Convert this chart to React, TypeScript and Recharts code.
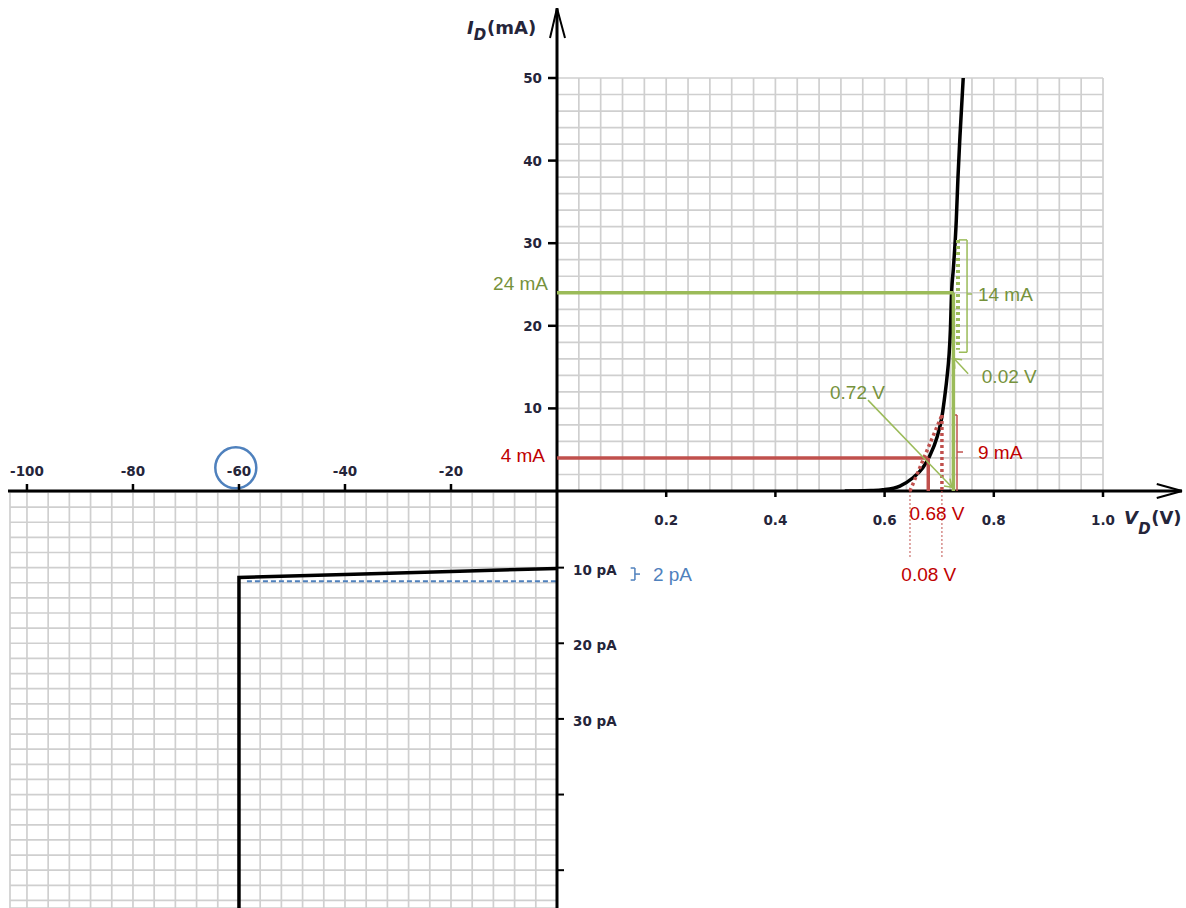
import React from 'react';
import { LineChart, Line, XAxis, YAxis, CartesianGrid, ReferenceLine, ReferenceDot } from 'recharts';

const W = 1186;
const H = 908;

// forward-bias characteristic: V (volts) vs I (mA)
const fwdV = [0.527, 0.55, 0.575, 0.597, 0.628, 0.652, 0.670, 0.683, 0.696, 0.705, 0.711, 0.7137, 0.7205, 0.7229, 0.7258, 0.7313, 0.7344, 0.738, 0.744];
const fwdI = [0, 0, 0.05, 0.15, 0.6, 1.6, 2.8, 4.3, 6.5, 9.0, 11.9, 13.4, 19.5, 24.3, 26.8, 32.8, 38, 42.9, 50];
const fwdData = fwdV.map((v, k) => ({ v, i: fwdI[k] }));

// reverse-bias characteristic: V (volts) vs I (pA, downward)
const revV = [0, -20, -40, -60, -60];
const revI = [10.1, 10.5, 10.9, 11.3, 55];
const revData = revV.map((v, k) => ({ v, i: revI[k] }));

// axis ticks
const fwdMajorV = [0.2, 0.4, 0.6, 0.8, 1.0];
const fwdMajorI = [10, 20, 30, 40, 50];
const revMajorV = [-100, -80, -60, -40, -20];
const revMajorI = [10, 20, 30, 40, 50];
const revLabelI = [10, 20, 30];

// grid ticks
const fwdGridV = Array.from({ length: 26 }, (_, k) => +(k * 0.04).toFixed(2));
const fwdGridI = Array.from({ length: 26 }, (_, k) => k * 2);
const revGridV = Array.from({ length: 26 }, (_, k) => -100 + k * 4);
const revGridI = Array.from({ length: 28 }, (_, k) => k * 2);

// annotation values
const greenQ = { v: 0.726, i: 24 };
const redQ = { v: 0.68, i: 4 };
const redTangent = [{ v: 0.6465, i: 0 }, { v: 0.705, i: 9.2 }];
const greenTangent = [{ v: 0.7344, i: 30.4 }, { v: 0.7344, i: 17.1 }];
const revMarkI = 11.8;

const GRID = '#cfcfcf';
const RED = '#C0504D';
const RED_T = '#C00000';
const GREEN = '#9BBB59';
const GREEN_T = '#76923C';
const BLUE = '#4F81BD';
const TXT_FONT = 'Liberation Sans, Arial, sans-serif';
const TICK_FONT = { fontFamily: 'DejaVu Sans, Verdana, sans-serif', fontWeight: 700, fontSize: 13.5, fill: '#25253a' };

const isIn = (arr: number[], v: number) => arr.some((m) => Math.abs(m - v) < 1e-6);

const FwdXTick = (p: any) => {
  const v = p.payload.value;
  if (!isIn(fwdMajorV, v)) return <g />;
  const y = p.y - 1;
  return (
    <g>
      <line x1={p.x} x2={p.x} y1={y} y2={y + 7} stroke="#000" strokeWidth={2.5} />
      <text x={p.x} y={y + 30} textAnchor="middle" dominantBaseline="central" {...TICK_FONT}>{v.toFixed(1)}</text>
    </g>
  );
};
const FwdYTick = (p: any) => {
  const v = p.payload.value;
  if (!isIn(fwdMajorI, v)) return <g />;
  return (
    <g>
      <line x1={p.x - 9} x2={p.x} y1={p.y} y2={p.y} stroke="#000" strokeWidth={2.5} />
      <text x={p.x - 15} y={p.y} textAnchor="end" dominantBaseline="central" {...TICK_FONT}>{v}</text>
    </g>
  );
};
const RevXTick = (p: any) => {
  const v = p.payload.value;
  if (!isIn(revMajorV, v)) return <g />;
  const y = p.y - 1;
  return (
    <g>
      <line x1={p.x} x2={p.x} y1={y - 7} y2={y} stroke="#000" strokeWidth={2.5} />
      <text x={p.x} y={y - 20} textAnchor="middle" dominantBaseline="central" {...TICK_FONT}>{v}</text>
    </g>
  );
};
const RevYTick = (p: any) => {
  const v = p.payload.value;
  if (!isIn(revMajorI, v)) return <g />;
  return (
    <g>
      <line x1={p.x} x2={p.x + 7} y1={p.y} y2={p.y} stroke="#000" strokeWidth={2} />
      {isIn(revLabelI, v) ? (
        <text x={p.x + 16} y={p.y + 2} textAnchor="start" dominantBaseline="central" {...TICK_FONT}>{`${v} pA`}</text>
      ) : null}
    </g>
  );
};

const seg = (key: string, a: [number, number], b: [number, number], stroke: string, width: number, dash?: string) => (
  <ReferenceLine
    key={key}
    segment={[{ x: a[0], y: a[1] }, { x: b[0], y: b[1] }]}
    stroke={stroke}
    strokeWidth={width}
    strokeDasharray={dash}
    ifOverflow="visible"
  />
);

const note = (
  key: string,
  x: number,
  y: number,
  text: string,
  color: string,
  pos: 'left' | 'right' | 'center',
  size: number,
  extra: any = {}
) => (
  <ReferenceDot
    key={key}
    x={x}
    y={y}
    r={0}
    fill="none"
    stroke="none"
    ifOverflow="visible"
    label={{ value: text, position: pos, offset: 0, fill: color, fontSize: size, fontFamily: TXT_FONT, ...extra }}
  />
);

const TITLE = { fontFamily: 'DejaVu Sans, Verdana, sans-serif', fontWeight: 'bold' };

export default function App() {
  return (
    <div style={{ position: 'absolute', left: 0, top: 0, width: W, height: H, background: '#fff', overflow: 'hidden' }}>
      {/* reverse-bias quadrant */}
      <div style={{ position: 'absolute', left: 0, top: 0 }}>
        <LineChart width={W} height={H} margin={{ top: 491, right: 628, bottom: 0, left: 10 }}>
          <CartesianGrid stroke={GRID} strokeWidth={1.7} />
          <XAxis
            type="number"
            dataKey="v"
            orientation="top"
            domain={[-103.2, 0]}
            allowDataOverflow
            ticks={revGridV}
            interval={0}
            height={1}
            tickSize={0}
            tickMargin={0}
            axisLine={false}
            tickLine={false}
            tick={RevXTick}
          />
          <YAxis
            type="number"
            orientation="right"
            reversed
            domain={[0, 55]}
            allowDataOverflow
            ticks={revGridI}
            interval={0}
            width={1}
            tickSize={0}
            tickMargin={0}
            axisLine={false}
            tickLine={false}
            tick={RevYTick}
          />
          {seg('rev-dash', [-58.5, revMarkI], [0, revMarkI], BLUE, 2, '5 3')}
          <Line
            data={revData}
            dataKey="i"
            type="linear"
            stroke="#000"
            strokeWidth={3.5}
            dot={false}
            activeDot={false}
            isAnimationActive={false}
          />
          {seg('br1', [13.9, 10.05], [14.7, 10.05], BLUE, 1.5)}
          {seg('br2', [14.7, 10.05], [14.7, 11.64], BLUE, 1.5)}
          {seg('br3', [13.9, 11.64], [14.7, 11.64], BLUE, 1.5)}
          {seg('br4', [14.7, 10.85], [15.66, 10.85], BLUE, 1.5)}
          {note('t-2pA', 18.1, 10.85, '2 pA', BLUE, 'right', 19)}
          <ReferenceDot x={-60.6} y={-3.2} r={20.5} fill="none" stroke={BLUE} strokeWidth={2.5} ifOverflow="visible" />
        </LineChart>
      </div>

      {/* forward-bias quadrant */}
      <div style={{ position: 'absolute', left: 0, top: 0 }}>
        <LineChart width={W} height={H} margin={{ top: 78, right: 83, bottom: 416, left: 556 }}>
          <CartesianGrid stroke={GRID} strokeWidth={1.7} />
          <XAxis
            type="number"
            dataKey="v"
            domain={[0, 1]}
            allowDataOverflow
            ticks={fwdGridV}
            interval={0}
            height={1}
            tickSize={0}
            tickMargin={0}
            axisLine={false}
            tickLine={false}
            tick={FwdXTick}
          />
          <YAxis
            type="number"
            domain={[0, 50]}
            allowDataOverflow
            ticks={fwdGridI}
            interval={0}
            width={1}
            tickSize={0}
            tickMargin={0}
            axisLine={false}
            tickLine={false}
            tick={FwdYTick}
          />
          {/* main axes with arrows */}
          {seg('ax-h', [-1.0055, 0], [1.1447, 0], '#000', 3)}
          {seg('ax-v', [0, -50.6], [0, 58.45], '#000', 3)}
          {seg('arr-x1', [1.0985, 0.85], [1.1447, 0], '#000', 2)}
          {seg('arr-x2', [1.0985, -0.85], [1.1447, 0], '#000', 2)}
          {seg('arr-y1', [-0.0128, 54.85], [0, 58.45], '#000', 2)}
          {seg('arr-y2', [0.0147, 54.85], [0, 58.45], '#000', 2)}

          <Line
            data={fwdData}
            dataKey="i"
            type="monotone"
            stroke="#000"
            strokeWidth={3.5}
            dot={false}
            activeDot={false}
            isAnimationActive={false}
          />

          {/* red operating point (4 mA) */}
          {seg('r-h', [0, redQ.i], [redQ.v, redQ.i], RED, 3.5)}
          {seg('r-v', [redQ.v, 0], [redQ.v, redQ.i], RED, 3.5)}
          {seg('r-tan', [redTangent[0].v, redTangent[0].i], [redTangent[1].v, redTangent[1].i], RED, 3.5, '3 3')}
          {seg('r-vd', [redTangent[1].v, redTangent[1].i], [redTangent[1].v, 0], RED, 3.5, '3 3')}
          {seg('r-d1', [redTangent[0].v, 0], [redTangent[0].v, -8.1], RED, 1, '2 2')}
          {seg('r-d2', [redTangent[1].v, 0], [redTangent[1].v, -8.1], RED, 1, '2 2')}
          {seg('r-b1', [0.7234, 9.2], [0.7326, 9.2], RED, 1.5)}
          {seg('r-b2', [0.7326, 9.2], [0.7326, 0], RED, 1.5)}
          {seg('r-b3', [0.7326, 4.72], [0.7436, 4.72], RED, 1.5)}

          {/* green operating point (24 mA) */}
          {seg('g-h', [0, greenQ.i], [greenQ.v, greenQ.i], GREEN, 3.5)}
          {seg('g-v', [greenQ.v, 0], [greenQ.v, greenQ.i], GREEN, 3.5)}
          {seg('g-tan', [greenTangent[0].v, greenTangent[0].i], [greenTangent[1].v, greenTangent[1].i], GREEN, 4, '3 3')}
          {seg('g-b1', [0.736, 30.4], [0.751, 30.4], GREEN, 1.5)}
          {seg('g-b2', [0.751, 30.4], [0.751, 16.8], GREEN, 1.5)}
          {seg('g-b3', [0.736, 16.8], [0.751, 16.8], GREEN, 1.5)}
          {seg('g-b4', [0.751, 23.85], [0.76, 23.85], GREEN, 1.5)}
          {seg('g-a1', [0.753, 14.2], [0.7275, 16.0], GREEN, 1.5)}
          {seg('g-a2', [0.7275, 16.0], [0.742, 15.9], GREEN, 1.5)}
          {seg('g-a3', [0.7275, 16.0], [0.7285, 14.8], GREEN, 1.5)}
          {seg('g-b', [0.5696, 11.0], [0.7234, 0.45], GREEN, 1.5)}
          {seg('g-b5', [0.7234, 0.45], [0.7087, 0.6], GREEN, 1.5)}
          {seg('g-b6', [0.7234, 0.45], [0.7197, 1.5], GREEN, 1.5)}

          {/* annotation texts */}
          {note('t24', -0.0165, 25.2, '24 mA', GREEN_T, 'left', 19)}
          {note('t4', -0.022, 4.36, '4 mA', RED_T, 'left', 19)}
          {note('t14', 0.771, 23.85, '14 mA', GREEN_T, 'right', 19)}
          {note('t002', 0.778, 13.9, '0.02 V', GREEN_T, 'right', 19)}
          {note('t072', 0.5, 12.0, '0.72 V', GREEN_T, 'right', 19)}
          {note('t9', 0.771, 4.72, '9 mA', RED_T, 'right', 19)}
          {note('t068', 0.696, -2.66, '0.68 V', RED_T, 'center', 19)}
          {note('t008', 0.681, -10.05, '0.08 V', RED_T, 'center', 19)}

          {/* axis titles */}
          {note('ti-I', -0.1648, 56.05, 'I', '#25253a', 'right', 18, { ...TITLE, fontStyle: 'italic' })}
          {note('ti-D', -0.1525, 55.2, 'D', '#25253a', 'right', 15, { ...TITLE, fontStyle: 'italic' })}
          {note('ti-mA', -0.1282, 56.05, '(mA)', '#25253a', 'right', 18, TITLE)}
          {note('tv-V', 1.0385, -3.2, 'V', '#25253a', 'right', 18, { ...TITLE, fontStyle: 'italic' })}
          {note('tv-D', 1.0645, -4.6, 'D', '#25253a', 'right', 15, { ...TITLE, fontStyle: 'italic' })}
          {note('tv-V2', 1.0883, -3.2, '(V)', '#25253a', 'right', 18, TITLE)}
        </LineChart>
      </div>
    </div>
  );
}
